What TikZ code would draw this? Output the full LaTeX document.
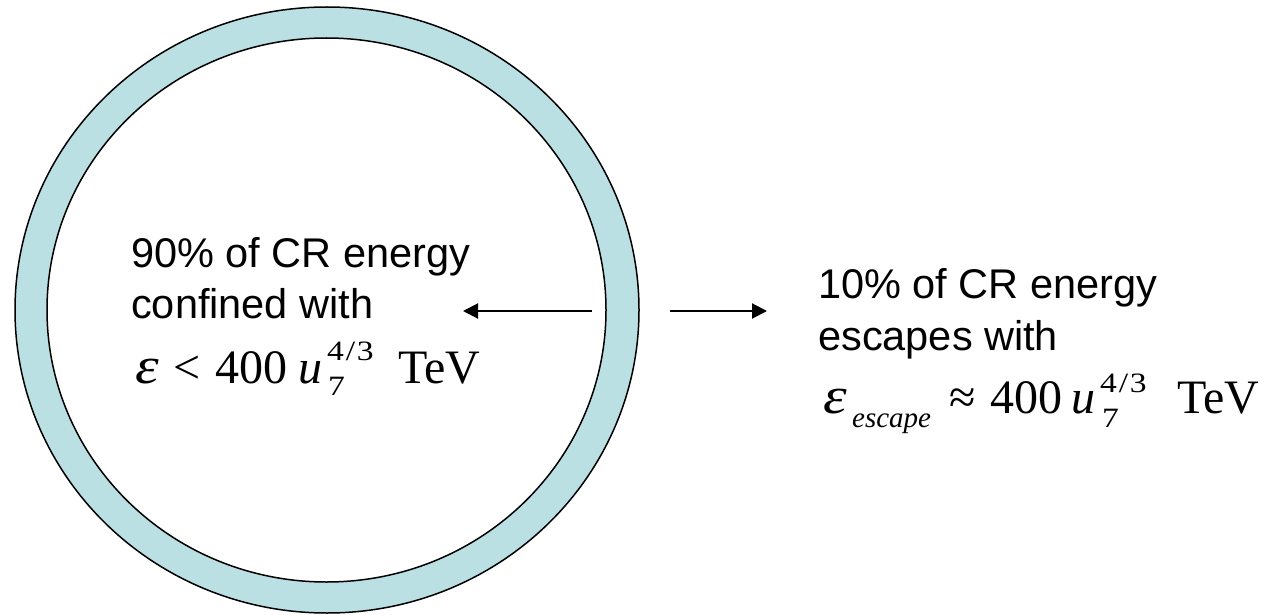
\documentclass[tikz,border=0pt]{standalone}
\usepackage{fontspec}
\usepackage{graphicx}
\setmainfont{Liberation Sans}
\newfontfamily\tms{Liberation Serif}
\usetikzlibrary{arrows.meta}
\definecolor{ringc}{RGB}{187,224,227}
\newcommand{\epsglyph}{\scalebox{1.25}[1.08]{\itshape ε}}
\newcommand{\fracsup}{\scalebox{1.2}[1]{4\hspace{1.5pt}/\hspace{1.5pt}3}}
\newcommand{\subsev}{\scalebox{1.2}[1]{7}}
\tikzset{
  txt/.style={anchor=base west, inner sep=0pt, font=\fontsize{41.5}{48}\selectfont},
  mbig/.style={anchor=base west, inner sep=0pt, font=\tms\fontsize{48}{52}\selectfont},
  msml/.style={anchor=base west, inner sep=0pt, font=\tms\fontsize{28}{30}\selectfont},
  msub/.style={anchor=base west, inner sep=0pt, font=\tms\itshape\fontsize{29}{30}\selectfont},
  arr/.style={-{Triangle[length=15pt,width=15pt]}, line width=2pt},
  ring/.style={fill=ringc, draw=black, line width=1.5pt, even odd rule}
}
\begin{document}
\begin{tikzpicture}[x=1pt,y=-1pt]
\useasboundingbox (0,0) rectangle (1274,615);
\coordinate (c) at (327,310);
\path[ring] (c) ellipse [x radius=312, y radius=303]
            (326.5,310) ellipse [x radius=279.5, y radius=272];
% left text
\node[txt] (l1) at (131,267) {90\% of CR energy};
\node[txt] (l2) at (131,318) {confined with};
\node[mbig] (le) at (135,383) {\epsglyph};
\node[mbig] (llt) at (173,383) {<};
\node[mbig] (l400) at (215,383) {400};
\node[mbig] (lu) at (298,383) {\itshape u};
\node[msml] (lsup) at (327,360) {\fracsup};
\node[msml] (lsub) at (328,395) {\subsev};
\node[mbig] (ltev) at (398,383) {TeV};
% right text
\node[txt] (r1) at (818,298) {10\% of CR energy};
\node[txt] (r2) at (818,350) {escapes with};
\node[mbig] (re) at (823,413) {\epsglyph};
\node[msub] (resc) at (852,427) {escape};
\node[mbig] (rap) at (949,413) {≈};
\node[mbig] (r400) at (990,413) {400};
\node[mbig] (ru) at (1071,413) {\itshape u};
\node[msml] (rsup) at (1100,392) {\fracsup};
\node[msml] (rsub) at (1102,427) {\subsev};
\node[mbig] (rtev) at (1177,413) {TeV};
% arrows
\coordinate (a1s) at (592,311);
\coordinate (a1e) at (463,311);
\coordinate (a2s) at (670,311);
\coordinate (a2e) at (767,311);
\draw[arr] (a1s) -- (a1e);
\draw[arr] (a2s) -- (a2e);
\end{tikzpicture}
\end{document}
